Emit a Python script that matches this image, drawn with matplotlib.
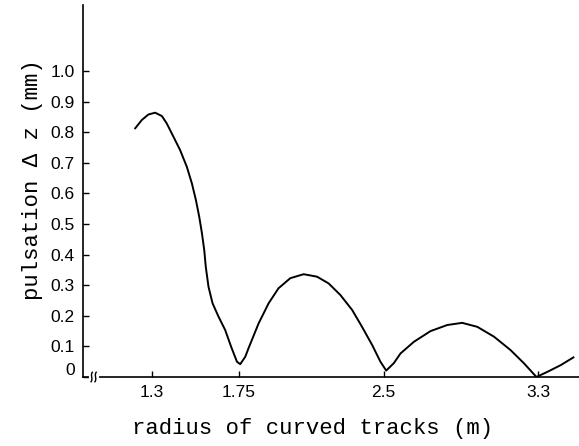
import numpy as np
import matplotlib
matplotlib.use("Agg")
import matplotlib.pyplot as plt
import matplotlib.transforms as mtransforms
from matplotlib.path import Path
from matplotlib.patches import PathPatch

# curve (radius in m, pulsation in mm)
radius = [1.215, 1.249, 1.283, 1.318, 1.353, 1.378, 1.413, 1.447, 1.482, 1.508,
          1.529, 1.546, 1.560, 1.572, 1.580, 1.594, 1.615, 1.646, 1.680, 1.711,
          1.741, 1.758, 1.784, 1.801, 1.853, 1.905, 1.956, 2.017, 2.086, 2.155,
          2.215, 2.276, 2.337, 2.388, 2.440, 2.483, 2.513, 2.552, 2.587, 2.656,
          2.742, 2.829, 2.906, 2.984, 3.070, 3.156, 3.225, 3.290, 3.347, 3.416,
          3.481]
pulsation = [0.813, 0.840, 0.858, 0.864, 0.853, 0.829, 0.785, 0.742, 0.687, 0.633,
             0.578, 0.524, 0.470, 0.415, 0.360, 0.295, 0.241, 0.197, 0.154, 0.099,
             0.050, 0.042, 0.066, 0.094, 0.175, 0.241, 0.290, 0.323, 0.336, 0.328,
             0.306, 0.268, 0.219, 0.164, 0.105, 0.050, 0.021, 0.045, 0.077, 0.115,
             0.150, 0.170, 0.177, 0.164, 0.132, 0.088, 0.045, 0.0, 0.017, 0.039,
             0.064]

xticks = [1.3, 1.75, 2.5, 3.3]
xticklabels = ["1.3", "1.75", "2.5", "3.3"]
yticks = [0, 0.1, 0.2, 0.3, 0.4, 0.5, 0.6, 0.7, 0.8, 0.9, 1.0]
yticklabels = ["0", "0.1", "0.2", "0.3", "0.4", "0.5", "0.6", "0.7", "0.8", "0.9", "1.0"]

fig = plt.figure(figsize=(5.79, 4.46), dpi=100)
ax = fig.add_axes([83 / 579, 69 / 446, (579 - 83) / 579, (377 - 5) / 446])

ax.plot(radius, pulsation, color="black", lw=1.4, solid_joinstyle="round")

ax.set_xlim(0.945, 3.51)
ax.set_ylim(0, 1.216)
ax.spines["top"].set_visible(False)
ax.spines["right"].set_visible(False)
for s in ("left", "bottom"):
    ax.spines[s].set_linewidth(1.2)

ax.set_xticks(xticks)
ax.set_xticklabels(xticklabels)
ax.set_yticks(yticks)
ax.set_yticklabels(yticklabels)
ax.tick_params(direction="in", length=4, width=1, pad=6)
for lab in ax.get_xticklabels() + ax.get_yticklabels():
    lab.set_fontfamily("Liberation Sans")
    lab.set_fontsize(12.5)

# the "0" sits a little above the axis in the original
zero = ax.get_yticklabels()[0]
zero.set_transform(zero.get_transform() + mtransforms.ScaledTranslation(0, 8 / 100, fig.dpi_scale_trans))

ax.set_xlabel("radius of curved tracks (m)", fontfamily="Liberation Mono",
              fontsize=16, labelpad=12)
ax.xaxis.set_label_coords(0.462, -0.11)
ax.set_ylabel("pulsation \u0394 z (mm)", fontfamily="Liberation Mono",
              fontsize=16)
ax.yaxis.set_label_coords(-0.08, 0.53)

# axis break mark near the origin
tr = ax.get_xaxis_transform()
ax.plot([0.985, 1.015], [0, 0], color="white", lw=3, transform=tr, clip_on=False, zorder=3)
for x0 in (0.99, 1.01):
    verts = [(x0 - 0.006, -0.014), (x0 + 0.012, -0.007), (x0 - 0.012, 0.007), (x0 + 0.006, 0.014)]
    path = Path(verts, [Path.MOVETO, Path.CURVE4, Path.CURVE4, Path.CURVE4])
    ax.add_patch(PathPatch(path, fc="none", ec="black", lw=1, transform=tr,
                           clip_on=False, zorder=4))

fig.savefig("out.png", dpi=100)
